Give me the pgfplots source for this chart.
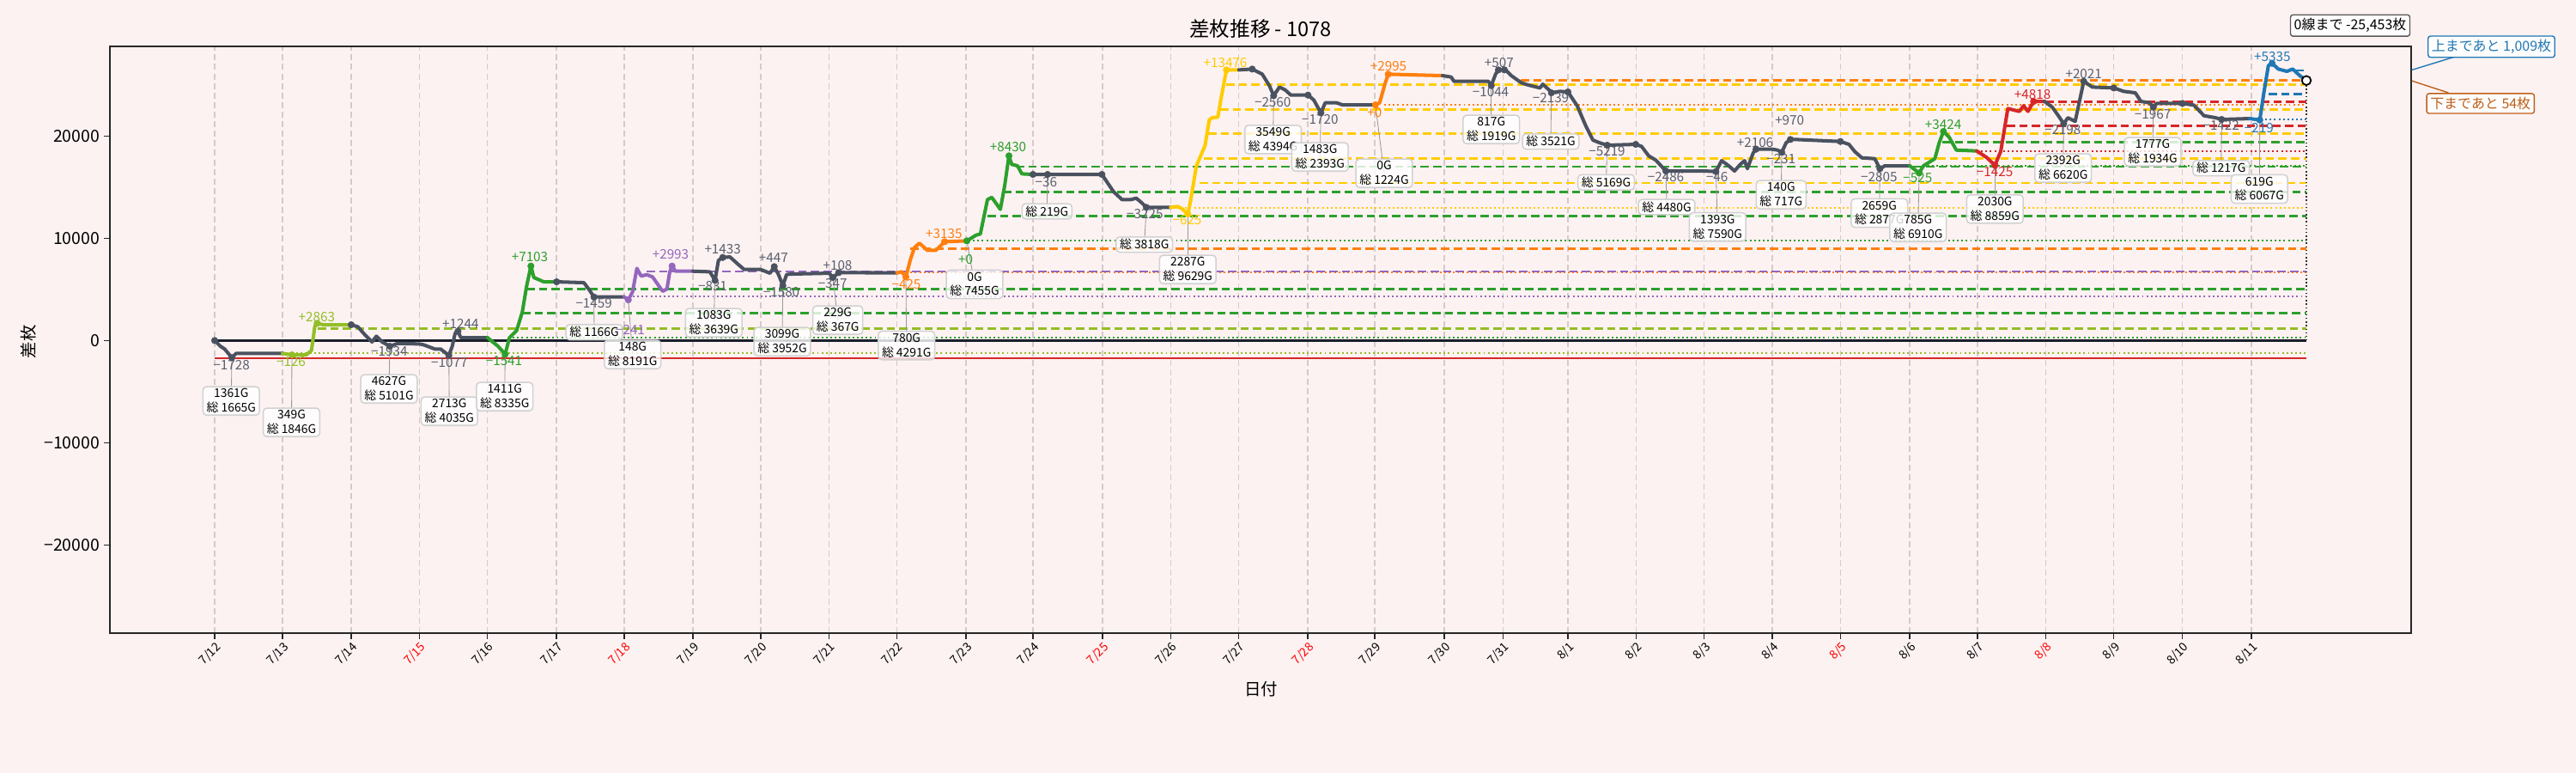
\documentclass[border=0pt]{standalone}
\usepackage{pgfplots}
\pgfplotsset{compat=1.18}
\usepackage{fontspec}
\setmainfont{Noto Sans CJK JP}

\definecolor{bgc}{RGB}{253,242,242}
\definecolor{cgray}{RGB}{74,82,96}
\definecolor{cgrayt}{RGB}{88,96,110}
\definecolor{colive}{RGB}{146,190,38}
\definecolor{cgreen}{RGB}{44,160,44}
\definecolor{cpurple}{RGB}{148,103,189}
\definecolor{corange}{RGB}{255,127,14}
\definecolor{cyellow}{RGB}{255,204,0}
\definecolor{cred}{RGB}{214,39,40}
\definecolor{cblue}{RGB}{31,119,180}
\definecolor{cbrown}{RGB}{190,95,25}
\definecolor{zeroc}{RGB}{26,30,42}
\definecolor{gridc}{RGB}{212,202,202}

\pgfplotsset{
  hd/.style={line width=1.8pt, dash pattern=on 7pt off 3.6pt},
  hdot/.style={line width=1.5pt, dash pattern=on 1.4pt off 2.3pt},
  seg/.style={line width=2.9pt, line join=round, line cap=round},
  dots/.style={only marks, mark=*, mark size=2.7pt},
}
\tikzset{
  gbox/.style={draw=black!18, line width=1.1pt, fill=white, fill opacity=0.8, text opacity=1,
    rounded corners=3pt, align=center, font=\fontsize{10}{12}\selectfont, inner xsep=3pt, inner ysep=1.8pt},
  dl/.style={font=\fontsize{11}{13}\selectfont, inner sep=0pt},
  ld/.style={draw=black!40, line width=0.6pt},
}

\begin{document}
\begin{tikzpicture}
\fill[bgc] (0,0) rectangle (2160pt,648pt);
\begin{axis}[
  at={(92.16pt,117.36pt)}, anchor=south west,
  scale only axis, width=1929.6pt, height=491.76pt,
  xmin=128, xmax=2808, ymin=-28620, ymax=28770,
  clip=false,
  scaled y ticks=false, scaled x ticks=false,
  axis background/.style={fill=bgc},
  axis line style={line width=1.1pt, black!85},
  tick align=outside, tick pos=left,
  major tick length=5pt,
  tick style={line width=1pt, black!85},
  xtick={250,329,409,488.5,567.6,648,727,807,886,965.6,1044.6,1125,1203,1284,1363.5,1442.6,1523,1601,1682,1750.6,1826,1905.6,1984.7,2064,2143.5,2224,2303,2382.6,2461.7,2541.5,2622},
  xticklabels={7/12,7/13,7/14,{\textcolor{red}{7/15}},7/16,7/17,{\textcolor{red}{7/18}},7/19,7/20,7/21,7/22,7/23,7/24,{\textcolor{red}{7/25}},7/26,7/27,{\textcolor{red}{7/28}},7/29,7/30,7/31,8/1,8/2,8/3,8/4,{\textcolor{red}{8/5}},8/6,8/7,{\textcolor{red}{8/8}},8/9,8/10,8/11},
  xticklabel style={font=\fontsize{10}{12}\selectfont, rotate=45, anchor=north east, inner sep=1pt},
  ytick={-20000,-10000,0,10000,20000},
  yticklabels={−20000,−10000,0,10000,20000},
  yticklabel style={font=\fontsize{14}{16}\selectfont},
  xmajorgrids,
  major grid style={draw=gridc, line width=0.8pt, dash pattern=on 5pt off 3pt},
]
% ---- horizontal level lines ----
\addplot[colive, hd] coordinates {(370,1176)(2686,1176)};
\addplot[cgreen, hd] coordinates {(608,2689)(2686,2689)};
\addplot[cgreen, hd] coordinates {(613,5042)(2686,5042)};
\addplot[corange, hdot] coordinates {(1050,6650)(2686,6650)};
\addplot[cpurple, hd] coordinates {(753,6750)(2686,6750)};
\addplot[corange, hd] coordinates {(1060,8963)(2686,8963)};
\addplot[cgreen, hd] coordinates {(1150,12156)(2686,12156)};
\addplot[cgreen, hd] coordinates {(1168,14509)(2686,14509)};
\addplot[cgreen, hd] coordinates {(1183,17002)(2686,17002)};
\addplot[cyellow, hd] coordinates {(1397,15405)(2686,15405)};
\addplot[cyellow, hd] coordinates {(1402,17786)(2686,17786)};
\addplot[cyellow, hd] coordinates {(1407,20223)(2686,20223)};
\addplot[cyellow, hd] coordinates {(1421,22604)(2686,22604)};
\addplot[cyellow, hd] coordinates {(1428,25013)(2686,25013)};
\addplot[corange, hd] coordinates {(1771,25433)(2686,25433)};
\addplot[cgreen, hd] coordinates {(2262,19383)(2686,19383)};
\addplot[cred, hd] coordinates {(2337,21008)(2686,21008)};
\addplot[cred, hd] coordinates {(2368,23332)(2686,23332)};
\addplot[cblue, hd] coordinates {(2642,24089)(2686,24089)};
\addplot[cblue, hd] coordinates {(2673,26413)(2686,26413)};
\addplot[colive, hdot] coordinates {(340,-1260)(2686,-1260)};
\addplot[cgreen, hdot] coordinates {(592,280)(2686,280)};
\addplot[cpurple, hdot] coordinates {(737,4285)(2686,4285)};
\addplot[cgreen, hdot] coordinates {(1128,9747)(2686,9747)};
\addplot[cyellow, hdot] coordinates {(1370,12997)(2686,12997)};
\addplot[corange, hdot] coordinates {(1612,23024)(2686,23024)};
\addplot[cgreen, hdot] coordinates {(2240,17086)(2686,17086)};
\addplot[cred, hdot] coordinates {(2302,18543)(2686,18543)};
\addplot[cblue, hdot] coordinates {(2633,21652)(2686,21652)};
% zero and min lines
\addplot[zeroc, line width=2.6pt] coordinates {(250,0)(2686,0)};
\addplot[cred, line width=0.9pt] coordinates {(250,-1728)(2686,-1728)};
\addplot[black!80, line width=1pt, dash pattern=on 1pt off 2pt] coordinates {(2686,0)(2686,25433)};

% ---- leader lines ----
\draw[ld] (axis cs:270,-1681) -- (axis cs:269.3,-5907);
\draw[ld] (axis cs:340,-1400) -- (axis cs:339.5,-8008);
\draw[ld] (axis cs:454,-560) -- (axis cs:453,-4731);
\draw[ld] (axis cs:522.7,-1457) -- (axis cs:523.3,-6916);
\draw[ld] (axis cs:588.3,-1345) -- (axis cs:587.7,-5487);
\draw[ld] (axis cs:691.7,4258) -- (axis cs:692,815);
\draw[ld] (axis cs:731.7,3977) -- (axis cs:736.7,-1370);
\draw[ld] (axis cs:832.7,5882) -- (axis cs:831.3,1739);
\draw[ld] (axis cs:911.7,5378) -- (axis cs:911,-109);
\draw[ld] (axis cs:970,6162) -- (axis cs:975.7,1992);
\draw[ld] (axis cs:1055,6218) -- (axis cs:1055.7,-487);
\draw[ld] (axis cs:1126,9748) -- (axis cs:1135,5496);
\draw[ld] (axis cs:1220,16246) -- (axis cs:1219.3,12638);
\draw[ld] (axis cs:1335,13025) -- (axis cs:1332.7,9386);
\draw[ld] (axis cs:1383.3,12380) -- (axis cs:1383.3,6949);
\draw[ld] (axis cs:1483.3,23948) -- (axis cs:1482.6,19663);
\draw[ld] (axis cs:1538.3,22268) -- (axis cs:1537.3,17957);
\draw[ld] (axis cs:1601.7,23052) -- (axis cs:1612,16360);
\draw[ld] (axis cs:1736.7,24929) -- (axis cs:1736.7,20646);
\draw[ld] (axis cs:1806.7,24229) -- (axis cs:1806,19470);
\draw[ld] (axis cs:1871.7,19103) -- (axis cs:1870.5,15478);
\draw[ld] (axis cs:1940,16582) -- (axis cs:1941,13058);
\draw[ld] (axis cs:1998.3,16526) -- (axis cs:2000.3,11109);
\draw[ld] (axis cs:2075,18403) -- (axis cs:2074.3,14260);
\draw[ld] (axis cs:2189.3,16806) -- (axis cs:2188.7,12470);
\draw[ld] (axis cs:2235,16386) -- (axis cs:2233.7,11067);
\draw[ld] (axis cs:2323.3,17142) -- (axis cs:2323.3,12856);
\draw[ld] (axis cs:2403.3,21204) -- (axis cs:2402.7,16865);
\draw[ld] (axis cs:2507.7,22828) -- (axis cs:2507,18461);
\draw[ld] (axis cs:2587.3,21624) -- (axis cs:2586.7,16865);
\draw[ld] (axis cs:2631.7,21568) -- (axis cs:2631.3,14823);

% ---- boxes ----
\node[gbox] at (axis cs:269.3,-5907) {1361G\\総 1665G};
\node[gbox] at (axis cs:339.5,-8008) {349G\\総 1846G};
\node[gbox] at (axis cs:453,-4731) {4627G\\総 5101G};
\node[gbox] at (axis cs:523.3,-6916) {2713G\\総 4035G};
\node[gbox] at (axis cs:587.7,-5487) {1411G\\総 8335G};
\node[gbox] at (axis cs:692,815) {総 1166G};
\node[gbox] at (axis cs:736.7,-1370) {148G\\総 8191G};
\node[gbox] at (axis cs:831.3,1739) {1083G\\総 3639G};
\node[gbox] at (axis cs:911,-109) {3099G\\総 3952G};
\node[gbox] at (axis cs:975.7,1992) {229G\\総 367G};
\node[gbox] at (axis cs:1055.7,-487) {780G\\総 4291G};
\node[gbox] at (axis cs:1135,5496) {0G\\総 7455G};
\node[gbox] at (axis cs:1219.3,12638) {総 219G};
\node[gbox] at (axis cs:1332.7,9386) {総 3818G};
\node[gbox] at (axis cs:1383.3,6949) {2287G\\総 9629G};
\node[gbox] at (axis cs:1482.6,19663) {3549G\\総 4394G};
\node[gbox] at (axis cs:1537.3,17957) {1483G\\総 2393G};
\node[gbox] at (axis cs:1612,16360) {0G\\総 1224G};
\node[gbox] at (axis cs:1736.7,20646) {817G\\総 1919G};
\node[gbox] at (axis cs:1806,19470) {総 3521G};
\node[gbox] at (axis cs:1870.5,15478) {総 5169G};
\node[gbox] at (axis cs:1941,13058) {総 4480G};
\node[gbox] at (axis cs:2000.3,11109) {1393G\\総 7590G};
\node[gbox] at (axis cs:2074.3,14260) {140G\\総 717G};
\node[gbox] at (axis cs:2188.7,12470) {2659G\\総 2877G};
\node[gbox] at (axis cs:2233.7,11067) {785G\\総 6910G};
\node[gbox] at (axis cs:2323.3,12856) {2030G\\総 8859G};
\node[gbox] at (axis cs:2402.7,16865) {2392G\\総 6620G};
\node[gbox] at (axis cs:2507,18461) {1777G\\総 1934G};
\node[gbox] at (axis cs:2586.7,16865) {総 1217G};
\node[gbox] at (axis cs:2631.3,14823) {619G\\総 6067G};

% ---- main series by day ----
\addplot[cgray, seg] coordinates {(250,0)(256.7,-560)(261.7,-840)(266.7,-1345)(270,-1681)(275,-1260)(329,-1260)};
\addplot[colive, seg] coordinates {(329,-1260)(340,-1400)(356.7,-1400)(362.7,-980)(366.7,1400)(369.3,1681)(376.7,1540)(409,1540)};
\addplot[cgray, seg] coordinates {(409,1540)(416.7,1345)(425,560)(433.3,-140)(438.3,420)(445,-140)(454,-560)(463.3,-280)(488.3,-336)(493.3,-420)(506.7,-840)(513.3,-840)(522.7,-1457)(526.7,-560)(530,700)(533.3,896)(536.7,280)(567.7,280)};
\addplot[cgreen, seg] coordinates {(567.7,280)(580,-560)(588.3,-1345)(593.3,280)(601.7,980)(608.3,2801)(613.3,5322)(618.3,7283)(621.7,6162)(633.3,5742)(648,5742)};
\addplot[cgray, seg] coordinates {(648,5742)(680,5658)(686.7,4902)(691.7,4258)(727,4258)};
\addplot[cpurple, seg] coordinates {(727,4258)(731.7,3977)(736.7,4762)(741.7,7059)(746.7,6302)(753.3,6442)(760,6218)(771.7,4818)(776.7,5042)(780,6722)(782.7,7283)(786.7,6778)(807,6778)};
\addplot[cgray, seg] coordinates {(807,6778)(826.7,6722)(832.7,5882)(836.7,7843)(841.7,8123)(850,8179)(860,7423)(866.7,6946)(886,6946)(896.7,6582)(901.7,7227)(906.7,6442)(911.7,5378)(916,6442)(920,6498)(965.7,6582)(970,6162)(976.7,6638)(1044.6,6620)};
\addplot[corange, seg] coordinates {(1044.6,6620)(1050,6722)(1055,6218)(1060,7843)(1065,9103)(1070.7,9523)(1080,8823)(1090,8823)(1100,9663)(1126,9748)};
\addplot[cgreen, seg] coordinates {(1126,9748)(1136.7,10308)(1141.7,10420)(1150,13781)(1155,14005)(1165,12829)(1170,15125)(1175,18066)(1178.3,17226)(1185,17086)(1190,16302)(1203,16246)};
\addplot[cgray, seg] coordinates {(1203,16246)(1220,16246)(1283.3,16246)(1290,15406)(1296.7,14565)(1306.7,13781)(1316.7,13781)(1323.3,13921)(1330,13445)(1335,13025)(1363.3,13025)};
\addplot[cyellow, seg] coordinates {(1363.3,13025)(1371.7,13109)(1376.7,12885)(1383.3,12380)(1386.7,13725)(1393.3,17086)(1403.3,19047)(1408.3,21568)(1411.7,21792)(1418.3,21848)(1421.7,23528)(1428.3,26469)(1442.7,26469)};
\addplot[cgray, seg] coordinates {(1442.7,26469)(1458.3,26550)(1470,26049)(1478.3,24929)(1483.3,23948)(1490,24789)(1496.7,24509)(1503.3,24005)(1523.3,24005)(1530,23528)(1538.3,22268)(1543.3,23248)(1556.7,23248)(1563.3,23052)(1601.7,23052)};
\addplot[corange, seg] coordinates {(1601.7,23052)(1606.7,23248)(1613.3,25209)(1616.7,26049)(1680,25909)};
\addplot[cgray, seg] coordinates {(1680,25909)(1690,25769)(1693.3,25349)(1733.3,25349)(1736.7,24929)(1741.7,26049)(1745,26469)(1753.3,26469)(1760,25909)(1771.7,25209)(1780,24985)(1793.3,24705)(1796.7,25069)(1805,24425)(1806.7,24229)(1816.7,24369)(1826,24313)(1836.7,22968)(1846.7,21007)(1855,19607)(1863.3,19327)(1871.7,19103)(1905,19187)(1911.7,18991)(1920,18066)(1928.3,17646)(1940,16582)(1985,16582)(1998.3,16526)(2005,17590)(2013.3,17086)(2020,16582)(2026.7,17226)(2031.7,17590)(2035,16806)(2041.7,18347)(2045,18711)(2064,18711)(2070,18627)(2075,18403)(2080,19327)(2085,19663)(2091.7,19663)(2143.3,19467)(2153.3,19187)(2160,18487)(2168.3,17870)(2183.3,17786)(2189.3,16806)(2195,17086)(2224,17086)};
\addplot[cgreen, seg] coordinates {(2224,17086)(2235,16386)(2240,17086)(2253.3,17786)(2258.3,19327)(2263.3,20447)(2270,19887)(2278.3,18627)(2302,18543)};
\addplot[cred, seg] coordinates {(2302,18543)(2313.3,17926)(2323.3,17142)(2330,18487)(2338.3,22688)(2351.7,22408)(2356.7,22968)(2361.7,22408)(2368.3,23388)(2381,23388)};
\addplot[cgray, seg] coordinates {(2381,23388)(2390,22828)(2398.3,21848)(2403.3,21204)(2408.3,21792)(2416.7,21428)(2426.7,25349)(2436.7,24789)(2461.7,24705)(2473.3,24369)(2486.7,24229)(2493.3,23388)(2503.3,23248)(2507.7,22828)(2511.7,23192)(2541.7,23192)(2555,23024)(2566.7,21988)(2580,21792)(2587.3,21624)(2620,21708)};
\addplot[cblue, seg] coordinates {(2620,21708)(2631.7,21568)(2636.7,24369)(2641.7,26889)(2646,27113)(2653.3,26553)(2663.3,26329)(2670,26553)(2678.3,25909)(2686,25433)};

% ---- dots ----
\addplot[cgray, dots] coordinates {(250,0)(270,-1681)(409,1540)(454,-560)(522.7,-1457)(533.3,896)(648.3,5742)(691.7,4258)(832.7,5882)(841.7,8123)(901.7,7227)(911.7,5378)(970,6162)(976.7,6638)(1203,16246)(1220,16246)(1283.3,16246)(1335,13025)(1458.3,26550)(1483.3,23948)(1523.3,24005)(1538.3,22268)(1736.7,24929)(1745,26469)(1752,26469)(1806.7,24229)(1826,24313)(1871.7,19103)(1905,19187)(1940,16582)(1998.3,16526)(2045,18711)(2075,18403)(2085,19663)(2143.3,19467)(2189.3,16806)(2403.3,21204)(2426.7,25349)(2461.7,24705)(2507.7,22828)(2541.7,23192)(2587.3,21624)};
\addplot[colive, dots] coordinates {(340,-1400)(369.3,1681)};
\addplot[cgreen, dots] coordinates {(588.3,-1345)(618.3,7283)(1126,9748)(1175,18066)(2235,16386)(2263.3,20447)};
\addplot[cpurple, dots] coordinates {(731.7,3977)(782.7,7283)};
\addplot[corange, dots] coordinates {(1055,6218)(1100,9663)(1601.7,23052)(1616.7,26049)};
\addplot[cyellow, dots] coordinates {(1383.3,12380)(1428.3,26469)};
\addplot[cred, dots] coordinates {(2323.3,17142)(2368.3,23388)};
\addplot[cblue, dots] coordinates {(2631.7,21568)(2646,27113)};
\addplot[only marks, mark=*, mark size=3.8pt, mark options={draw=black, fill=white, line width=1.3pt}] coordinates {(2686,25433)};

% ---- dot labels ----
\node[dl, text=cgrayt] at (axis cs:269.7,-2395) {−1728};
\node[dl, text=colive] at (axis cs:339,-2042) {−126};
\node[dl, text=colive] at (axis cs:368.8,2328) {+2863};
\node[dl, text=cgrayt] at (axis cs:453.3,-1092) {−1934};
\node[dl, text=cgrayt] at (axis cs:523.3,-2151) {−1077};
\node[dl, text=cgrayt] at (axis cs:536.3,1655) {+1244};
\node[dl, text=cgreen] at (axis cs:587,-1958) {−1541};
\node[dl, text=cgreen] at (axis cs:617,8184) {+7103};
\node[dl, text=cgrayt] at (axis cs:691.7,3672) {−1459};
\node[dl, text=cpurple] at (axis cs:734,1025) {−241};
\node[dl, text=cpurple] at (axis cs:781,8462) {+2993};
\node[dl, text=cgrayt] at (axis cs:830,5294) {−831};
\node[dl, text=cgrayt] at (axis cs:841.7,8924) {+1433};
\node[dl, text=cgrayt] at (axis cs:900.8,8100) {+447};
\node[dl, text=cgrayt] at (axis cs:910,4722) {−1580};
\node[dl, text=cgrayt] at (axis cs:975.5,7311) {+108};
\node[dl, text=cgrayt] at (axis cs:969.7,5580) {−347};
\node[dl, text=corange] at (axis cs:1055.5,5521) {−425};
\node[dl, text=corange] at (axis cs:1099.3,10462) {+3135};
\node[dl, text=cgreen] at (axis cs:1124.7,7899) {+0};
\node[dl, text=cgreen] at (axis cs:1174,18949) {+8430};
\node[dl, text=cgrayt] at (axis cs:1218.3,15478) {−36};
\node[dl, text=cgrayt] at (axis cs:1333.3,12386) {−3225};
\node[dl, text=cyellow] at (axis cs:1382.5,11764) {−625};
\node[dl, text=cyellow] at (axis cs:1427,27175) {+13476};
\node[dl, text=cgrayt] at (axis cs:1482.2,23276) {−2560};
\node[dl, text=cgrayt] at (axis cs:1537.3,21596) {−1720};
\node[dl, text=corange] at (axis cs:1600.8,22310) {+0};
\node[dl, text=corange] at (axis cs:1617,26839) {+2995};
\node[dl, text=cgrayt] at (axis cs:1736,24276) {−1044};
\node[dl, text=cgrayt] at (axis cs:1745.8,27142) {+507};
\node[dl, text=cgrayt] at (axis cs:1806,23713) {−2139};
\node[dl, text=cgrayt] at (axis cs:1871.5,18487) {−5219};
\node[dl, text=cgrayt] at (axis cs:1940,15966) {−2486};
\node[dl, text=cgrayt] at (axis cs:1999.7,15966) {−46};
\node[dl, text=cgrayt] at (axis cs:2044,19386) {+2106};
\node[dl, text=cgrayt] at (axis cs:2074.2,17789) {−231};
\node[dl, text=cgrayt] at (axis cs:2084.2,21571) {+970};
\node[dl, text=cgrayt] at (axis cs:2188.3,15999) {−2805};
\node[dl, text=cgreen] at (axis cs:2233.3,15915) {−525};
\node[dl, text=cgreen] at (axis cs:2263,21108) {+3424};
\node[dl, text=cred] at (axis cs:2323,16470) {−1425};
\node[dl, text=cred] at (axis cs:2367,24091) {+4818};
\node[dl, text=cgrayt] at (axis cs:2402.2,20587) {−2198};
\node[dl, text=cgrayt] at (axis cs:2426.7,26108) {+2021};
\node[dl, text=cgrayt] at (axis cs:2507,22134) {−1967};
\node[dl, text=cgrayt] at (axis cs:2586.7,21041) {−1422};
\node[dl, text=cblue] at (axis cs:2630.8,20789) {−219};
\node[dl, text=cblue] at (axis cs:2646.3,27730) {+5335};

% ---- titles and labels ----
\node[font=\fontsize{17}{20}\selectfont] at (axis cs:1468,30503) {差枚推移 - 1078};
\node[rotate=90, font=\fontsize{14}{16}\selectfont] at (axis cs:33,-110) {差枚};
\node[font=\fontsize{14}{16}\selectfont] at (axis cs:1468.7,-34099) {日付};

% ---- right side annotations ----
\node[draw=black!65, line width=1pt, fill=white, fill opacity=0.9, text opacity=1, rounded corners=2pt, font=\fontsize{11.5}{13}\selectfont, inner sep=3pt] at (axis cs:2737,30811) {0線まで -25,453枚};
\draw[cblue, line width=1pt] (axis cs:2808.7,26462) -- (axis cs:2857.8,27730);
\node[draw=cblue, text=cblue, line width=1pt, fill=white, fill opacity=0.9, text opacity=1, rounded corners=2pt, font=\fontsize{11.5}{13}\selectfont, inner sep=3pt] at (axis cs:2901.5,28738) {上まであと 1,009枚};
\draw[cbrown, line width=1pt] (axis cs:2808.7,25399) -- (axis cs:2851.4,24234);
\node[draw=cbrown, text=cbrown, line width=1pt, fill=white, fill opacity=0.9, text opacity=1, rounded corners=2pt, font=\fontsize{11.5}{13}\selectfont, inner sep=3pt] at (axis cs:2888.7,23184) {下まであと 54枚};
\end{axis}
\pgfresetboundingbox
\path[use as bounding box] (0,0) rectangle (2160pt,648pt);
\end{tikzpicture}
\end{document}
